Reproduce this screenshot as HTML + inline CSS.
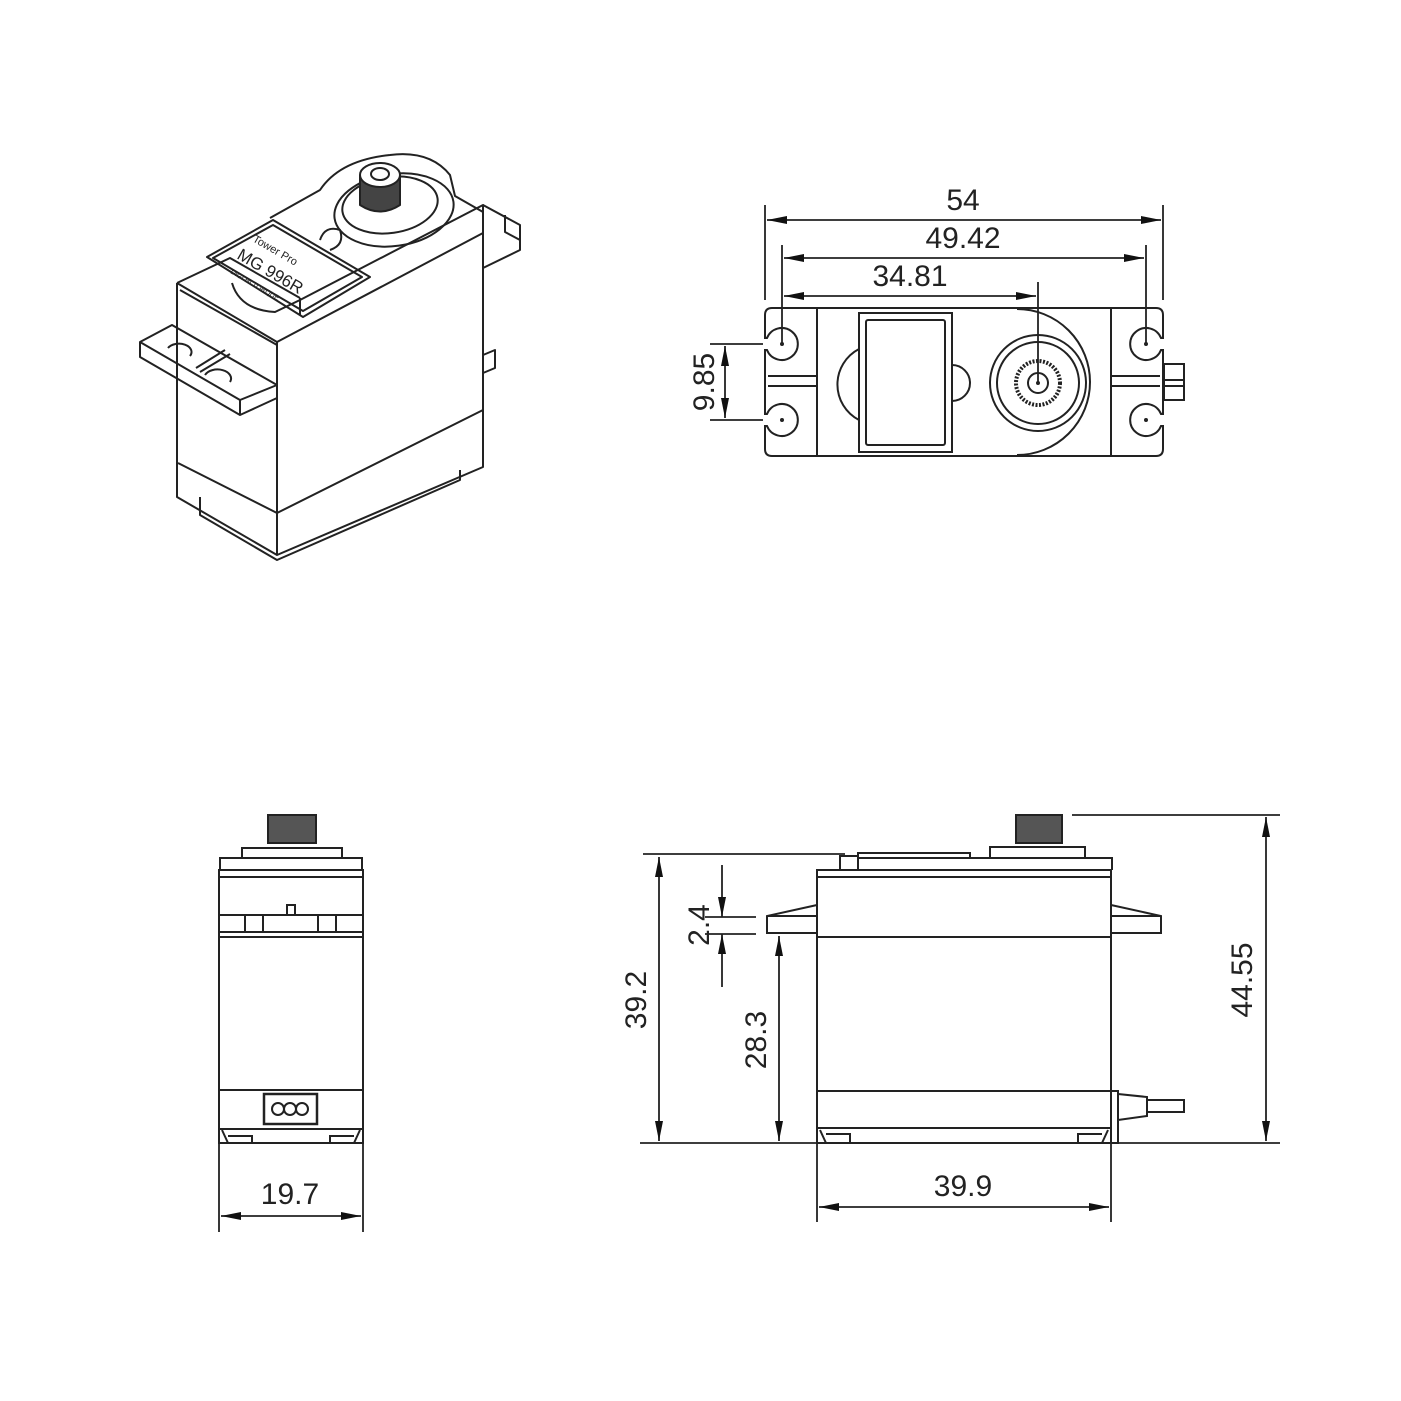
<!DOCTYPE html>
<html><head><meta charset="utf-8"><style>
html,body{margin:0;padding:0;background:#fff}
svg{display:block}
text{font-family:"Liberation Sans",sans-serif;fill:#222}
</style></head><body>
<svg width="1401" height="1401" viewBox="0 0 1401 1401" xmlns="http://www.w3.org/2000/svg">
<defs>
<marker id="a" viewBox="0 0 20 8" refX="20" refY="4" markerWidth="20" markerHeight="8" markerUnits="userSpaceOnUse" orient="auto-start-reverse"><path d="M0,0 L20,4 L0,8 z" fill="#111"/></marker>
</defs>
<g fill="none" stroke="#222" stroke-width="2">
<!-- ===== TOP VIEW ===== -->
<path d="M772,308 H1156 Q1163,308 1163,315 V338 H1161 A16,16 0 1 0 1161,350 H1163 V414 H1161 A16,16 0 1 0 1161,426 H1163 V449 Q1163,456 1156,456 H772 Q765,456 765,449 V426 H767 A16,16 0 1 0 767,414 H765 V350 H767 A16,16 0 1 0 767,338 H765 V315 Q765,308 772,308 Z"/>
<line x1="817" y1="308" x2="817" y2="456"/>
<line x1="1111" y1="308" x2="1111" y2="456"/>
<path d="M768,376 H817 M768,386 H817 M1111,376 H1160 M1111,386 H1160"/>
<rect x="859" y="313" width="93" height="139"/>
<rect x="866" y="320" width="79" height="125" rx="2"/>
<path d="M859,349 A40,40 0 0 0 859,420"/>
<path d="M952,365 A18,18 0 0 1 952,401"/>
<path d="M1017,309 A73,73 0 1 1 1017,455" />
<circle cx="1038" cy="383" r="48"/>
<circle cx="1038" cy="383" r="41"/>
<circle cx="1038" cy="383" r="22" stroke-width="4" stroke-dasharray="2 1.5"/>
<circle cx="1038" cy="383" r="10"/>
<circle cx="1038" cy="383" r="1" fill="#222"/>
<circle cx="782" cy="344" r="1" fill="#222"/><circle cx="782" cy="420" r="1" fill="#222"/>
<circle cx="1146" cy="344" r="1" fill="#222"/><circle cx="1146" cy="420" r="1" fill="#222"/>
<rect x="1164" y="364" width="20" height="36"/>
<line x1="1164" y1="380" x2="1184" y2="380"/><line x1="1164" y1="386" x2="1184" y2="386"/>
</g>
<g stroke="#222" stroke-width="1.8" fill="none">
<line x1="765" y1="205" x2="765" y2="300"/><line x1="1163" y1="205" x2="1163" y2="300"/>
<line x1="782" y1="245" x2="782" y2="344"/><line x1="1146" y1="245" x2="1146" y2="344"/>
<line x1="1038" y1="282" x2="1038" y2="383"/>
<line x1="767" y1="220" x2="1161" y2="220" marker-start="url(#a)" marker-end="url(#a)"/>
<line x1="784" y1="258" x2="1144" y2="258" marker-start="url(#a)" marker-end="url(#a)"/>
<line x1="784" y1="296" x2="1036" y2="296" marker-start="url(#a)" marker-end="url(#a)"/>
<line x1="710" y1="344" x2="763" y2="344"/><line x1="710" y1="420" x2="763" y2="420"/>
<line x1="725" y1="346" x2="725" y2="418" marker-start="url(#a)" marker-end="url(#a)"/>
</g>
<g font-size="30" text-anchor="middle">
<text x="963" y="210">54</text>
<text x="963" y="248">49.42</text>
<text x="910" y="286">34.81</text>
<text transform="translate(714,382) rotate(-90)">9.85</text>
</g>

<!-- ===== SIDE VIEW (bottom left) ===== -->
<g fill="none" stroke="#222" stroke-width="2">
<rect x="268" y="815" width="48" height="28" fill="#555"/>
<path d="M242,858 V848 H342 V858"/>
<path d="M220,870 V858 H362 V870"/>
<rect x="219" y="870" width="144" height="273"/>
<line x1="219" y1="877" x2="363" y2="877"/>
<path d="M287,915 V905 H295 V915"/>
<line x1="219" y1="915" x2="363" y2="915"/>
<line x1="219" y1="932" x2="363" y2="932"/>
<line x1="219" y1="937" x2="363" y2="937"/>
<path d="M245,915 V932 M263,915 V932 M318,915 V932 M336,915 V932"/>
<line x1="219" y1="1090" x2="363" y2="1090"/>
<rect x="264" y="1094" width="53" height="30" stroke-width="2.5"/>
<circle cx="278" cy="1109" r="6"/><circle cx="290" cy="1109" r="6"/><circle cx="302" cy="1109" r="6"/>
<line x1="219" y1="1129" x2="363" y2="1129"/>
<path d="M222,1130 L228,1143 M360,1130 L354,1143 M252,1143 V1136 H228 M330,1143 V1136 H354"/>
</g>
<g stroke="#222" stroke-width="1.8" fill="none">
<line x1="219" y1="1143" x2="219" y2="1232"/><line x1="363" y1="1143" x2="363" y2="1232"/>
<line x1="221" y1="1216" x2="361" y2="1216" marker-start="url(#a)" marker-end="url(#a)"/>
</g>
<text x="290" y="1204" font-size="30" text-anchor="middle">19.7</text>

<!-- ===== FRONT VIEW (bottom right) ===== -->
<g fill="none" stroke="#222" stroke-width="2">
<rect x="1016" y="815" width="46" height="28" fill="#555"/>
<path d="M990,858 V847 H1085 V858"/>
<path d="M840,870 V856 H858 V870 M858,856 V853 H970 V858"/>
<path d="M857,858 H1112 V870"/>
<rect x="817" y="870" width="294" height="273"/>
<line x1="817" y1="877" x2="1111" y2="877"/>
<path d="M817,905 L767,916 V933 H817 M1111,905 L1161,916 V933 H1111"/>
<line x1="767" y1="916" x2="817" y2="916"/><line x1="1111" y1="916" x2="1161" y2="916"/>
<line x1="817" y1="937" x2="1111" y2="937"/>
<line x1="817" y1="1091" x2="1111" y2="1091"/>
<line x1="817" y1="1128" x2="1111" y2="1128"/>
<path d="M820,1130 L826,1143 M1108,1130 L1102,1143 M850,1143 V1134 H826 M1078,1143 V1134 H1102"/>
<path d="M1111,1091 H1118 V1143 H1111 M1118,1094 L1147,1097 V1116 L1118,1120"/>
<rect x="1147" y="1100" width="37" height="12"/>
</g>
<g stroke="#222" stroke-width="1.8" fill="none">
<line x1="643" y1="854" x2="845" y2="854"/>
<line x1="1072" y1="815" x2="1280" y2="815"/>
<line x1="640" y1="1143" x2="1280" y2="1143"/>
<line x1="659" y1="857" x2="659" y2="1141" marker-start="url(#a)" marker-end="url(#a)"/>
<line x1="1266" y1="817" x2="1266" y2="1141" marker-start="url(#a)" marker-end="url(#a)"/>
<line x1="705" y1="917" x2="756" y2="917"/><line x1="705" y1="934" x2="756" y2="934"/>
<line x1="722" y1="865" x2="722" y2="917" marker-end="url(#a)"/>
<line x1="722" y1="987" x2="722" y2="934" marker-end="url(#a)"/>
<line x1="779" y1="936" x2="779" y2="1141" marker-start="url(#a)" marker-end="url(#a)"/>
<line x1="817" y1="1143" x2="817" y2="1222"/><line x1="1111" y1="1143" x2="1111" y2="1222"/>
<line x1="819" y1="1207" x2="1109" y2="1207" marker-start="url(#a)" marker-end="url(#a)"/>
</g>
<g font-size="30" text-anchor="middle">
<text transform="translate(646,1000) rotate(-90)">39.2</text>
<text transform="translate(709,925) rotate(-90)">2.4</text>
<text transform="translate(766,1040) rotate(-90)">28.3</text>
<text transform="translate(1252,980) rotate(-90)">44.55</text>
<text x="963" y="1196">39.9</text>
</g>

<!-- ===== ISOMETRIC ===== -->
<g fill="none" stroke="#222" stroke-width="2" stroke-linejoin="round">
<path d="M177,283 L277,342 L483,233"/>
<path d="M177,283 V497 L277,555 L483,467 V233"/>
<line x1="277" y1="342" x2="277" y2="555"/>
<path d="M178,463 L277,513 L483,410"/>
<path d="M180,290 L277,345"/>
<path d="M177,283 L230,258 L300,298 M300,298 V315"/>
<path d="M300,300 L483,205 V233"/>
<path d="M483,205 L520,225 V250 L483,268"/>
<path d="M505,215 V232 L520,240"/>
<path d="M483,212 L455,196 L450,175 Q430,150 390,155 Q340,160 320,190 L270,218"/>
<path d="M207,257 L273,220 L370,277 L303,317 Z"/>
<path d="M213,258 L273,225 L362,277 L303,311 Z"/>
<ellipse cx="394" cy="210" rx="60" ry="36" transform="rotate(-8 394 210)"/>
<ellipse cx="390" cy="205" rx="48" ry="28" transform="rotate(-8 390 205)"/>
<path d="M360,175 V205 Q380,218 400,205 V175" fill="#444"/>
<ellipse cx="380" cy="175" rx="20" ry="12" fill="#fff"/>
<ellipse cx="380" cy="174" rx="9" ry="6"/>
<path d="M232,283 Q240,310 275,312 L300,300"/>
<path d="M320,240 Q325,225 340,230 Q345,245 330,250"/>
<path d="M140,342 L172,325 L277,385 L277,398 L240,415 L140,357 Z"/>
<path d="M140,342 L240,400 L277,385"/>
<line x1="240" y1="400" x2="240" y2="415"/>
<path d="M168,348 A12,8 0 0 1 190,356"/>
<path d="M205,375 A12,8 0 0 1 230,382"/>
<path d="M196,368 L225,350 M200,372 L230,354"/>
<path d="M483,355 L495,350 V368 L483,373"/>
<path d="M200,497 V515 L277,560 L460,480 V470"/>
</g>
<g font-family="Liberation Sans, sans-serif" fill="#222">
<text transform="translate(252,241) rotate(30)" font-size="11">Tower Pro</text>
<text transform="translate(236,258) rotate(30)" font-size="17">MG 996R</text>
<text transform="translate(230,273) rotate(30)" font-size="7">DIGI HI TORQUE</text>
</g>
</svg>
</body></html>
